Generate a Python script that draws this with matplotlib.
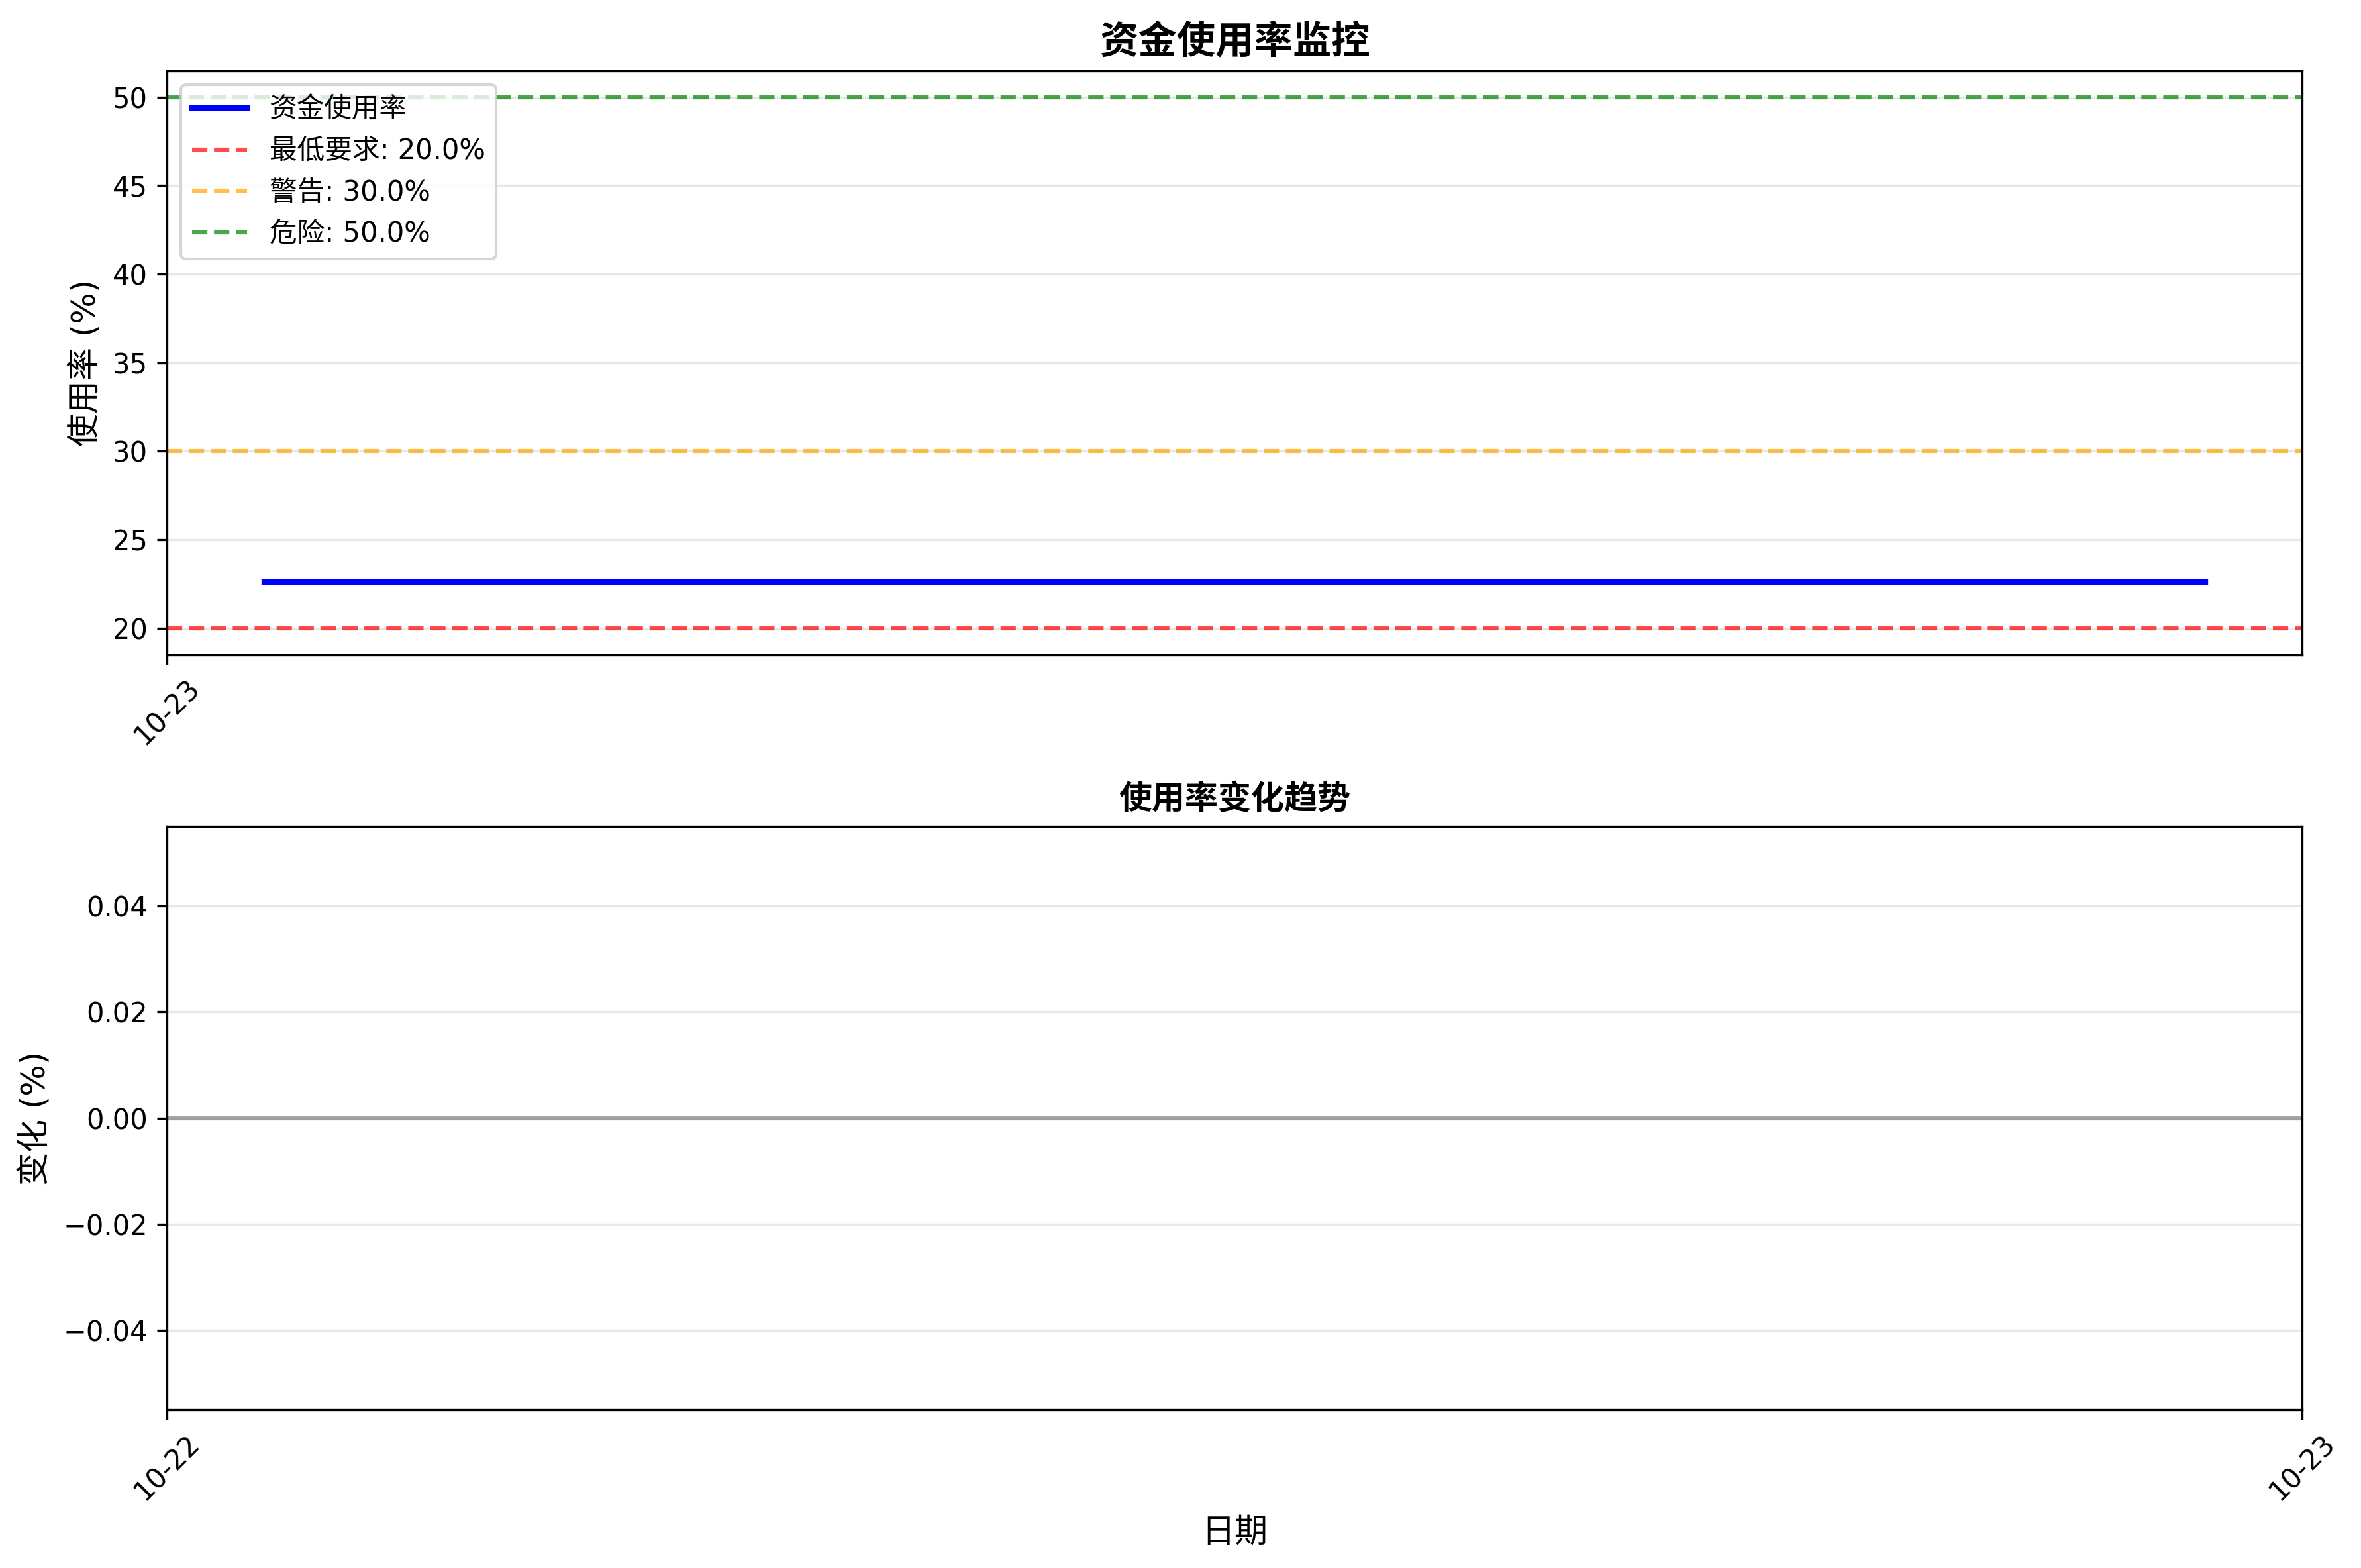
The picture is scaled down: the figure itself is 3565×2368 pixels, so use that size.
import numpy as np, pandas as pd
import matplotlib
matplotlib.use("Agg")
import matplotlib.pyplot as plt
import matplotlib.dates as mdates

plt.rcParams['font.family'] = ['DejaVu Sans', 'Noto Sans CJK SC']
plt.rcParams['axes.unicode_minus'] = True

# data
times = pd.to_datetime(["2025-10-23 01:00", "2025-10-23 21:00"])
usage = [22.6, 22.6]
levels = [20.0, 30.0, 50.0]
level_names = ["最低要求", "警告", "危险"]
level_colors = ["red", "orange", "green"]
change_times = pd.to_datetime([])
change_vals = []
change_xlim = pd.to_datetime(["2025-10-22", "2025-10-23"])

fig = plt.figure(figsize=(3565/300, 2368/300), dpi=300)
ax1 = fig.add_axes([0.0708, 0.5825, 0.9043, 0.3724])
ax2 = fig.add_axes([0.0708, 0.1008, 0.9043, 0.3723])

ax1.plot(times, usage, color="blue", lw=2, label="资金使用率")
for v, n, c in zip(levels, level_names, level_colors):
    ax1.axhline(v, color=c, ls="--", alpha=0.7, label=f"{n}: {v:.1f}%")
ax1.set_title("资金使用率监控", fontsize=14, fontweight="bold")
ax1.set_ylabel("使用率 (%)", fontsize=12)
ax1.legend(loc="upper left")
ax1.grid(True, axis="y", alpha=0.3)
ax1.xaxis.set_major_locator(mdates.DayLocator())
ax1.xaxis.set_major_formatter(mdates.DateFormatter("%m-%d"))
plt.setp(ax1.get_xticklabels(), rotation=45)

ax2.plot(change_times, change_vals, color="purple", lw=1.5)
ax2.axhline(0, color="gray", alpha=0.7, lw=1.5)
ax2.set_xlim(change_xlim[0], change_xlim[1])
ax2.set_title("使用率变化趋势", fontsize=12, fontweight="bold")
ax2.set_ylabel("变化 (%)", fontsize=12)
ax2.set_xlabel("日期", fontsize=12)
ax2.grid(True, axis="y", alpha=0.3)
ax2.xaxis.set_major_locator(mdates.DayLocator())
ax2.xaxis.set_major_formatter(mdates.DateFormatter("%m-%d"))
plt.setp(ax2.get_xticklabels(), rotation=45)

fig.savefig("out.png", dpi=300)
